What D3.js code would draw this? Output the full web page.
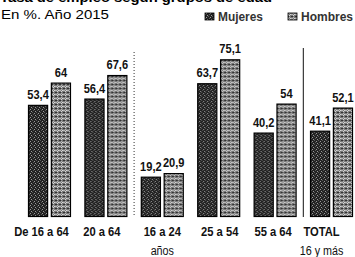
<!DOCTYPE html>
<html>
<head>
<meta charset="utf-8">
<script src="https://cdn.jsdelivr.net/npm/d3@7"></script>
<style>
  body { margin: 0; background: #fff; }
  svg { display: block; }
  text { font-family: "Liberation Sans", Arial, sans-serif; }
</style>
</head>
<body>
<svg id="chart"></svg>
<script>
// chart data
var categories = ["De 16 a 64", "20 a 64", "16 a 24|años", "25 a 54", "55 a 64", "TOTAL|16 y más"];
var series = ["Mujeres", "Hombres"];
var mujeres = [53.4, 56.4, 19.2, 63.7, 40.2, 41.1];
var hombres = [64, 67.6, 20.9, 75.1, 54, 52.1];

// small nudges of the category labels, as printed
var labelDx = [-8, -4, 0, 1, -2, -10];

var width = 355;
var height = 257;

var svg = d3.select("#chart")
  .attr("width", width)
  .attr("height", height);

// squeeze a text to a share of its natural width (narrow newspaper face)
function condense(sel, k) {
  sel.each(function () {
    var w = this.getComputedTextLength();
    d3.select(this)
      .attr("textLength", w * k)
      .attr("lengthAdjust", "spacingAndGlyphs");
  });
}

// dithered fills, like the printed original
var defs = svg.append("defs");

var pDark = defs.append("pattern")
  .attr("id", "dark")
  .attr("width", 4).attr("height", 4)
  .attr("patternUnits", "userSpaceOnUse");
pDark.append("rect").attr("width", 4).attr("height", 4).attr("fill", "#222");
[[0, 0], [2, 1], [1, 2], [3, 3]].forEach(function (p, i) {
  pDark.append("rect").attr("x", p[0]).attr("y", p[1]).attr("width", 1).attr("height", 1)
    .attr("fill", i % 2 ? "#999" : "#5a5a5a");
});

var pLight = defs.append("pattern")
  .attr("id", "light")
  .attr("width", 4).attr("height", 4)
  .attr("patternUnits", "userSpaceOnUse");
pLight.append("rect").attr("width", 4).attr("height", 4).attr("fill", "#777");
[[0, 0], [2, 2], [3, 0], [1, 3]].forEach(function (p, i) {
  pLight.append("rect").attr("x", p[0]).attr("y", p[1]).attr("width", 1).attr("height", 1)
    .attr("fill", i % 2 ? "#d8d8d8" : "#333");
});
[[1, 1], [3, 2], [0, 2]].forEach(function (p) {
  pLight.append("rect").attr("x", p[0]).attr("y", p[1]).attr("width", 1).attr("height", 1)
    .attr("fill", "#b5b5b5");
});

var fills = { "Mujeres": "url(#dark)", "Hombres": "url(#light)" };

// scales
var x0 = d3.scaleBand()
  .domain(categories)
  .range([28, 353])
  .paddingInner(0.238)
  .paddingOuter(0);

var x1 = d3.scaleBand()
  .domain(series)
  .range([0, x0.bandwidth()])
  .paddingInner(0.12);

var y = d3.scaleLinear()
  .domain([0, 100])
  .range([217, 7]);

var fmt = function (v) { return d3.format("~r")(v).replace(".", ","); };

// title (cut at the top in the original)
svg.append("text")
  .attr("x", 0).attr("y", 2)
  .attr("font-weight", "bold")
  .attr("font-size", 13)
  .attr("textLength", 272)
  .attr("lengthAdjust", "spacingAndGlyphs")
  .text("Tasa de empleo según grupos de edad");

svg.append("text")
  .attr("x", 1).attr("y", 19)
  .attr("font-size", 12.5)
  .attr("textLength", 108)
  .attr("lengthAdjust", "spacingAndGlyphs")
  .text("En %. Año 2015");

// legend
var legendX = [205, 288];
var legendW = [45, 52];
series.forEach(function (s, i) {
  svg.append("rect")
    .attr("x", legendX[i]).attr("y", 13)
    .attr("width", 9).attr("height", 7)
    .attr("fill", fills[s])
    .attr("stroke", "#000").attr("stroke-width", 0.8);
  svg.append("text")
    .attr("x", legendX[i] + 13).attr("y", 21)
    .attr("font-size", 12)
    .attr("font-weight", "bold")
    .attr("fill", "#333")
    .attr("textLength", legendW[i])
    .attr("lengthAdjust", "spacingAndGlyphs")
    .text(s);
});

// separators
var gap = x0.step() - x0.bandwidth();
svg.append("line")
  .attr("x1", x0(categories[2]) - gap / 2).attr("x2", x0(categories[2]) - gap / 2)
  .attr("y1", 52).attr("y2", y(0))
  .attr("stroke", "#333").attr("stroke-width", 1)
  .attr("stroke-dasharray", "1,2");
svg.append("line")
  .attr("x1", x0(categories[5]) - gap / 2).attr("x2", x0(categories[5]) - gap / 2)
  .attr("y1", 48).attr("y2", y(0))
  .attr("stroke", "#111").attr("stroke-width", 1);

// bars
var rows = categories.map(function (c, i) {
  return { cat: c, i: i, values: [{ s: "Mujeres", v: mujeres[i] }, { s: "Hombres", v: hombres[i] }] };
});

var groups = svg.append("g")
  .selectAll("g")
  .data(rows)
  .enter()
  .append("g")
  .attr("transform", function (d) { return "translate(" + x0(d.cat) + ",0)"; });

groups.selectAll("rect")
  .data(function (d) { return d.values; })
  .enter()
  .append("rect")
  .attr("x", function (d) { return x1(d.s) + 0.5; })
  .attr("y", function (d) { return y(d.v) + 0.5; })
  .attr("width", x1.bandwidth() - 1)
  .attr("height", function (d) { return y(0) - y(d.v) - 1; })
  .attr("fill", function (d) { return fills[d.s]; })
  .attr("stroke", "#000")
  .attr("stroke-width", 1.2);

// value labels
groups.selectAll("text.val")
  .data(function (d) { return d.values; })
  .enter()
  .append("text")
  .attr("class", "val")
  .attr("x", function (d) { return x1(d.s) + x1.bandwidth() / 2; })
  .attr("y", function (d) { return y(d.v) - 6; })
  .attr("text-anchor", "middle")
  .attr("font-size", 13.5)
  .attr("font-weight", "bold")
  .attr("fill", "#111")
  .text(function (d) { return fmt(d.v); })
  .call(condense, 0.82);

// category labels
groups.each(function (d) {
  var g = d3.select(this);
  d.cat.split("|").forEach(function (line, j) {
    g.append("text")
      .attr("x", x0.bandwidth() / 2 + labelDx[d.i])
      .attr("y", 236 + j * 19)
      .attr("text-anchor", "middle")
      .attr("font-size", j ? 12.5 : 13)
      .attr("font-weight", j ? "normal" : "bold")
      .attr("fill", "#111")
      .text(line)
      .call(condense, 0.86);
  });
});
</script>
</body>
</html>
